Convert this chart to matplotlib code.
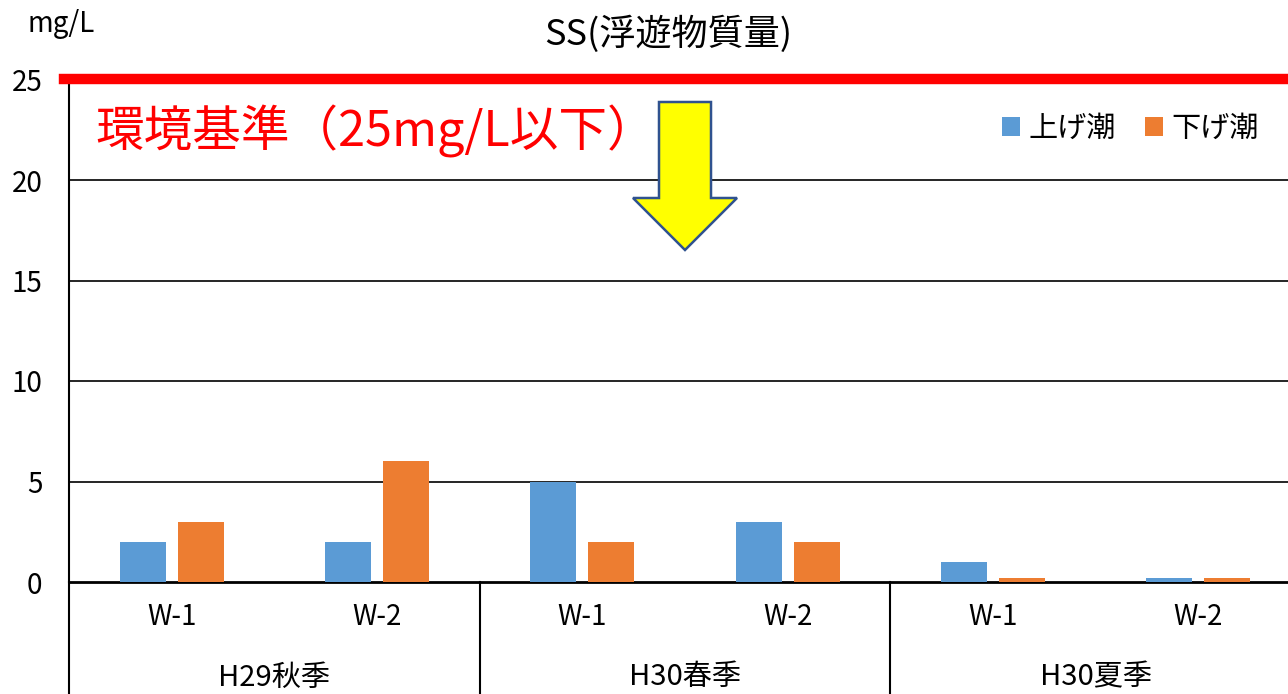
import matplotlib.pyplot as plt
from matplotlib.patches import Polygon
from matplotlib.lines import Line2D

plt.rcParams['font.family'] = ['Noto Sans CJK JP', 'DejaVu Sans']

sites = ["W-1", "W-2", "W-1", "W-2", "W-1", "W-2"]
seasons = ["H29秋季", "H30春季", "H30夏季"]
rising = [2, 2, 5, 3, 1, 0.2]
falling = [3, 6, 2, 2, 0.2, 0.2]
standard = 25

W, H = 1288, 694
fig = plt.figure(figsize=(W / 100, H / 100), dpi=100)
ax = fig.add_axes([69 / W, (H - 582) / H, 1232 / W, 502.5 / H])

x = list(range(len(sites)))
bw = 0.224
ax.bar([i - 0.141 for i in x], rising, bw, color="#5B9BD5", label="上げ潮", zorder=3)
ax.bar([i + 0.141 for i in x], falling, bw, color="#ED7D31", label="下げ潮", zorder=3)

ax.set_xlim(-0.5, 5.5)
ax.set_ylim(0, 25)
ax.set_yticks([0, 5, 10, 15, 20, 25])
ax.tick_params(axis="y", length=0, pad=19, labelsize=20)
ax.set_xticks([])
for s in ["top", "right"]:
    ax.spines[s].set_visible(False)
ax.spines["left"].set_linewidth(1.5)
ax.spines["bottom"].set_linewidth(2)
for v in [5, 10, 15, 20]:
    ax.axhline(v, color="black", lw=1.2, zorder=1)
ax.axhline(standard, xmin=-0.004, xmax=1, color="#FF0000", lw=7.5, zorder=4, clip_on=False)

# category labels below the axis
tr = ax.get_xaxis_transform()
for i, s in enumerate(sites):
    ax.text(i, -0.07, s, transform=tr, ha="center", va="center", fontsize=20)
for g, name in enumerate(seasons):
    ax.text(2 * g + 0.5, -0.19, name, transform=tr, ha="center", va="center", fontsize=21)
for xd in [-0.5, 1.5, 3.5]:
    ax.add_line(Line2D([xd, xd], [0, -0.23], transform=tr, color="black", lw=1.5, clip_on=False))

fig.text(61 / W, 1 - 24 / H, "mg/L", ha="center", va="center", fontsize=20)
fig.text(668 / W, 1 - 34 / H, "SS(浮遊物質量)", ha="center", va="center", fontsize=26)
fig.text(95 / W, 1 - 131 / H, "環境基準（25mg/L以下）", ha="left", va="center",
         fontsize=35, color="#FF0000")

# yellow arrow
pts = [(659, 102), (711, 102), (711, 198), (737, 198), (685, 250), (633, 198), (659, 198)]
arrow = Polygon([(px / W, 1 - py / H) for px, py in pts], closed=True,
                facecolor="#FFFF00", edgecolor="#2F528F", lw=1.8,
                transform=fig.transFigure)
fig.patches.append(arrow)

ax.legend(loc="center right", bbox_to_anchor=(1285 / W, 1 - 129 / H),
          bbox_transform=fig.transFigure, ncol=2, frameon=False, fontsize=21,
          handlelength=0.6, handleheight=0.6, handletextpad=0.3, columnspacing=1.0)

fig.savefig("out.png", dpi=100)
